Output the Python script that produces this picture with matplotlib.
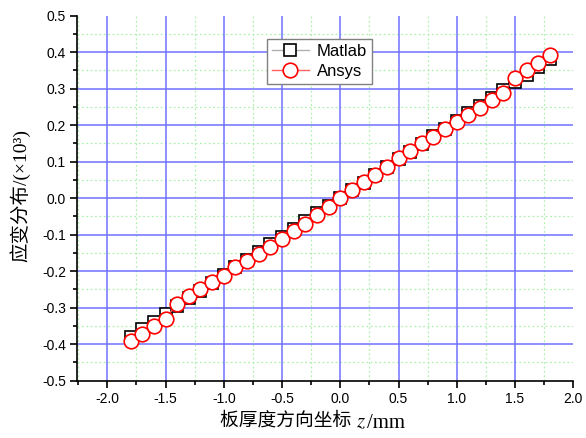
import matplotlib.pyplot as plt
import numpy as np
from matplotlib.ticker import MultipleLocator

plt.rcParams['font.family'] = ['Liberation Sans', 'Noto Sans CJK SC']
plt.rcParams['axes.unicode_minus'] = False
plt.rcParams['mathtext.fontset'] = 'stix'

# 板厚度方向坐标 z (mm)
z = [-1.8, -1.7, -1.6, -1.5, -1.4, -1.3, -1.2, -1.1, -1.0, -0.9,
     -0.8, -0.7, -0.6, -0.5, -0.4, -0.3, -0.2, -0.1, 0.0,
     0.1, 0.2, 0.3, 0.4, 0.5, 0.6, 0.7, 0.8, 0.9,
     1.0, 1.1, 1.2, 1.3, 1.4, 1.5, 1.6, 1.7, 1.8]

matlab = [-0.380, -0.359, -0.338, -0.317, -0.295, -0.274, -0.253, -0.232, -0.211, -0.190,
          -0.169, -0.148, -0.127, -0.106, -0.084, -0.063, -0.042, -0.021, 0.000,
          0.021, 0.042, 0.063, 0.084, 0.106, 0.127, 0.148, 0.169, 0.190,
          0.211, 0.232, 0.253, 0.274, 0.295, 0.317, 0.338, 0.359, 0.380]

ansys = [-0.391, -0.371, -0.351, -0.330, -0.289, -0.269, -0.250, -0.231, -0.213, -0.190,
         -0.172, -0.153, -0.135, -0.113, -0.091, -0.070, -0.047, -0.023, 0.000,
         0.021, 0.043, 0.064, 0.086, 0.110, 0.129, 0.150, 0.168, 0.188,
         0.209, 0.228, 0.248, 0.268, 0.289, 0.330, 0.351, 0.371, 0.391]

x_major = [-2.0, -1.5, -1.0, -0.5, 0.0, 0.5, 1.0, 1.5, 2.0]
y_major = [-0.5, -0.4, -0.3, -0.2, -0.1, 0.0, 0.1, 0.2, 0.3, 0.4, 0.5]

fig = plt.figure(figsize=(5.86, 4.38), dpi=100)
ax = fig.add_axes([0.1314, 0.1308, 0.8469, 0.8338])

xlim = (-2.26, 2.0)
ylim = (-0.5, 0.5)
ax.set_xlim(xlim)
ax.set_ylim(ylim)

# grid (Origin style, no lines on the frame edges)
for v in np.arange(-2.25, 2.0, 0.25):
    if abs(v * 2 - round(v * 2)) > 1e-6:
        ax.axvline(v, color='#b0f0b0', lw=0.9, ls=(0, (1.5, 2)), zorder=0)
for v in np.arange(-0.45, 0.5, 0.1):
    ax.axhline(v, color='#b0f0b0', lw=0.9, ls=(0, (1.5, 2)), zorder=0)
for v in x_major:
    if xlim[0] < v < xlim[1]:
        ax.axvline(v, color='#7070ff', lw=1.1, zorder=0.5)
for v in y_major:
    if ylim[0] < v < ylim[1]:
        ax.axhline(v, color='#7070ff', lw=1.1, zorder=0.5)

ax.plot(z, matlab, color='#b0b0b0', lw=1.0, marker='s', ms=8, mfc='white',
        mec='black', mew=1.2, label='Matlab', zorder=2)
ax.plot(z, ansys, color='#ff6060', lw=1.0, marker='o', ms=10.5, mfc='white',
        mec='red', mew=1.2, label='Ansys', zorder=3)

ax.set_xticks(x_major)
ax.set_yticks(y_major)
ax.xaxis.set_minor_locator(MultipleLocator(0.25))
ax.yaxis.set_minor_locator(MultipleLocator(0.05))
ax.set_xticklabels([f'{v:.1f}' for v in x_major], fontsize=10)
ax.set_yticklabels([f'{v:.1f}' for v in y_major], fontsize=10)
ax.tick_params(which='major', direction='out', length=5, width=1.2, pad=3)
ax.tick_params(which='minor', direction='out', length=3, width=1.2)

for s in ['top', 'right']:
    ax.spines[s].set_visible(False)
for s in ['left', 'bottom']:
    ax.spines[s].set_linewidth(1.2)

lab_fam = ['Liberation Serif', 'Noto Sans CJK SC']

# x label: Chinese part, then italic z, then /mm
t1 = fig.text(220 / 586, 1 - 421 / 438, '板厚度方向坐标 ', fontsize=13.5,
              family=lab_fam, ha='left', va='center')
t2 = fig.text(0, 0, '$z$', fontsize=15)
t3 = fig.text(0, 0, '/mm', fontsize=15, family=lab_fam)
fig.canvas.draw()
r = fig.canvas.get_renderer()
bb = t1.get_window_extent(r)
t2.set_position((bb.x1 / fig.bbox.width, bb.y0 / fig.bbox.height + 0.006))
bb2 = t2.get_window_extent(r)
t3.set_position((bb2.x1 / fig.bbox.width + 0.002, bb.y0 / fig.bbox.height + 0.004))

fig.text(20 / 586, 1 - 196 / 438, '应变分布/(×10³)', fontsize=14,
         family=lab_fam, rotation=90, ha='center', va='center')

leg = ax.legend(loc='upper left', bbox_to_anchor=(0.383, 0.936), fontsize=12,
                fancybox=False, framealpha=1, edgecolor='#808080',
                borderpad=0.3, handlelength=2.2, handletextpad=0.5,
                labelspacing=0.3, borderaxespad=0)
leg.get_frame().set_linewidth(1.0)

fig.savefig('out.png', dpi=100)
